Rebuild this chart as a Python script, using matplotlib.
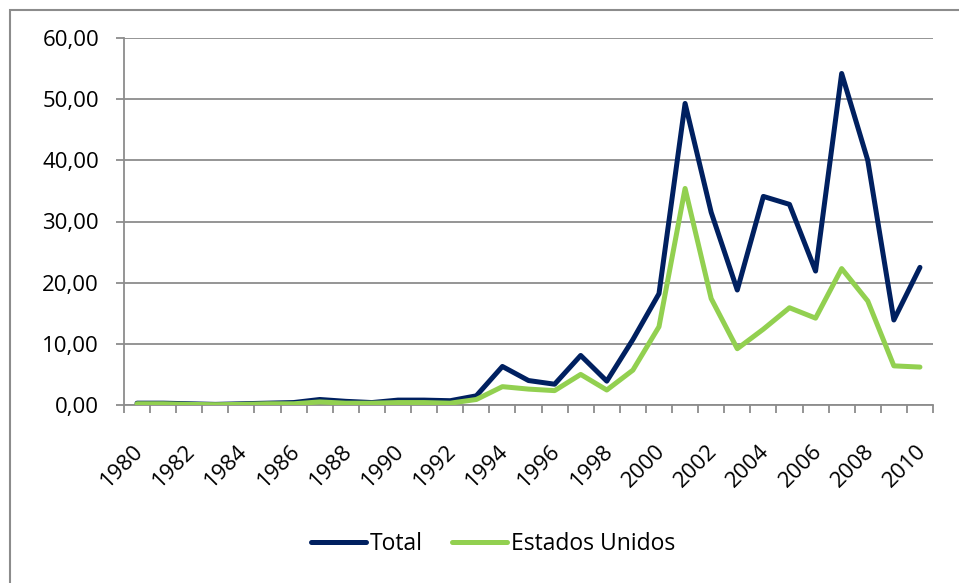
import matplotlib
matplotlib.use("Agg")
import matplotlib.pyplot as plt
from matplotlib.patches import Rectangle
from matplotlib.ticker import FixedLocator, FuncFormatter
from matplotlib.transforms import ScaledTranslation

years = list(range(1980, 2011))
total = [0.3, 0.3, 0.2, 0.1, 0.2, 0.3, 0.4, 0.9, 0.6, 0.4, 0.8, 0.8, 0.7, 1.5,
         6.3, 4.0, 3.4, 8.1, 3.9, 10.7, 18.2, 49.3, 31.5, 18.8, 34.1, 32.8,
         21.9, 54.2, 40.0, 13.9, 22.5]
estados_unidos = [0.2, 0.2, 0.1, 0.05, 0.1, 0.2, 0.2, 0.5, 0.3, 0.3, 0.4, 0.4, 0.3, 0.9,
                  3.0, 2.6, 2.35, 5.0, 2.45, 5.7, 12.8, 35.4, 17.4, 9.2, 12.4, 15.9,
                  14.2, 22.3, 17.0, 6.4, 6.2]
y_ticks = [0, 10, 20, 30, 40, 50, 60]

plt.rcParams['font.family'] = ['Open Sans', 'DejaVu Sans']

W, H = 959, 583
fig = plt.figure(figsize=(W / 100, H / 100), dpi=100)
fig.patches.append(Rectangle((10 / W, -0.1), 1.2, 1 - 10 / H + 0.1,
                             transform=fig.transFigure, fill=False,
                             edgecolor='#8c8c8c', linewidth=1.5))

left, right, top, bottom = 124, 933, 38, 405
ax = fig.add_axes([left / W, 1 - bottom / H, (right - left) / W, (bottom - top) / H])

x = list(range(len(years)))
ax.plot(x, total, color='#002060', linewidth=3.6, solid_joinstyle='round',
        solid_capstyle='round', label='Total', zorder=3)
ax.plot(x, estados_unidos, color='#92D050', linewidth=3.6, solid_joinstyle='round',
        solid_capstyle='round', label='Estados Unidos', zorder=3)

ax.set_xlim(-0.5, len(years) - 0.5)
ax.set_ylim(0, 60)

ax.set_yticks(y_ticks)
ax.yaxis.set_major_formatter(FuncFormatter(lambda v, p: f"{v:.2f}".replace('.', ',')))
ax.grid(axis='y', color='#8c8c8c', linewidth=1.3)
ax.set_axisbelow(True)

ax.set_xticks(x[::2])
ax.set_xticklabels([str(y) for y in years[::2]], rotation=45, ha='right',
                   va='center', rotation_mode='anchor')
ax.xaxis.set_minor_locator(FixedLocator([i - 0.5 for i in range(len(years) + 1)]))
ax.tick_params(axis='x', which='major', length=0, pad=31, labelsize=16)
ax.tick_params(axis='x', which='minor', length=6, width=1.3, color='#8c8c8c', direction='out')
ax.tick_params(axis='y', length=6, width=1.3, color='#8c8c8c', labelsize=16, pad=12)
shift = ScaledTranslation(3 / 100, 0, fig.dpi_scale_trans)
for lab in ax.get_xticklabels():
    lab.set_transform(lab.get_transform() + shift)

for s in ['top', 'right']:
    ax.spines[s].set_visible(False)
for s in ['left', 'bottom']:
    ax.spines[s].set_color('#8c8c8c')
    ax.spines[s].set_linewidth(1.3)

leg = fig.legend(loc='center', bbox_to_anchor=(493 / W, 1 - 544 / H), ncol=2,
                 frameon=False, fontsize=16.5, handlelength=2.4, handletextpad=0.15,
                 columnspacing=1.3)

fig.savefig('out.png', dpi=100)
